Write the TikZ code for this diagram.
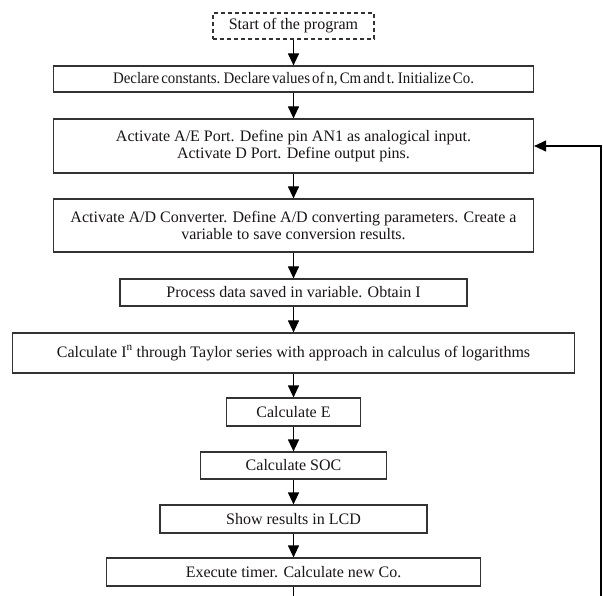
\documentclass[tikz,border=0pt]{standalone}
\usepackage{fontspec}
\setmainfont{Liberation Serif}
\usetikzlibrary{arrows.meta}
\definecolor{boxline}{HTML}{333333}
\definecolor{txt}{HTML}{1A1418}
\tikzset{
  x=1pt, y=-1pt,
  proc/.style={draw=boxline, line width=1.2pt, fill=white, inner sep=0pt,
    align=center, text=txt, font=\fontsize{16}{17.7}\selectfont},
  startbox/.style={proc, dashed, dash pattern=on 4pt off 3pt},
  flow/.style={line width=1.2pt, -{Triangle[length=12pt,width=11pt]}},
  plain/.style={line width=1.2pt}
}
\begin{document}
\begin{tikzpicture}
\useasboundingbox (0,0) rectangle (603,596);
\fill[white] (0,0) rectangle (603,596);
\node[startbox, minimum width=161pt, minimum height=26pt] (s) at (293.5,26) {Start of the program};
\node[proc, minimum width=480pt, minimum height=26pt] (b2) at (293.5,79) {\scalebox{0.93}[1]{\spaceskip=2.2pt Declare constants. Declare values of n, Cm and t. Initialize Co.}};
\node[proc, minimum width=480pt, minimum height=54pt] (b3) at (293.5,146) {Activate A/E Port. Define pin AN1 as analogical input.\\Activate D Port. Define output pins.};
\node[proc, minimum width=480pt, minimum height=53pt] (b4) at (293.5,225.5) {Activate A/D Converter. Define A/D converting parameters. Create a\\variable to save conversion results.};
\node[proc, minimum width=347pt, minimum height=27pt] (b5) at (293.5,292.5) {Process data saved in variable. Obtain I};
\node[proc, minimum width=562pt, minimum height=40pt] (b6) at (293.5,353) {Calculate I\textsuperscript{n} through Taylor series with approach in calculus of logarithms};
\node[proc, minimum width=134pt, minimum height=28pt] (b7) at (293.5,412) {Calculate E};
\node[proc, minimum width=186pt, minimum height=27pt] (b8) at (293.5,465.5) {Calculate SOC};
\node[proc, minimum width=267pt, minimum height=28pt] (b9) at (293.5,519) {Show results in LCD};
\node[proc, minimum width=374pt, minimum height=28pt] (b10) at (293.5,572) {Execute timer. Calculate new Co.};
\coordinate (bot) at (293.5,596);
\coordinate (rb) at (601,596);
\coordinate (rt) at (601,146);
\draw[flow] (s) -- (b2);
\draw[flow] (b2) -- (b3);
\draw[flow] (b3) -- (b4);
\draw[flow] (b4) -- (b5);
\draw[flow] (b5) -- (b6);
\draw[flow] (b6) -- (b7);
\draw[flow] (b7) -- (b8);
\draw[flow] (b8) -- (b9);
\draw[flow] (b9) -- (b10);
\draw[plain] (b10) -- (bot);
\draw[flow] (rb) -- (rt) -- (b3.east);
\end{tikzpicture}
\end{document}
